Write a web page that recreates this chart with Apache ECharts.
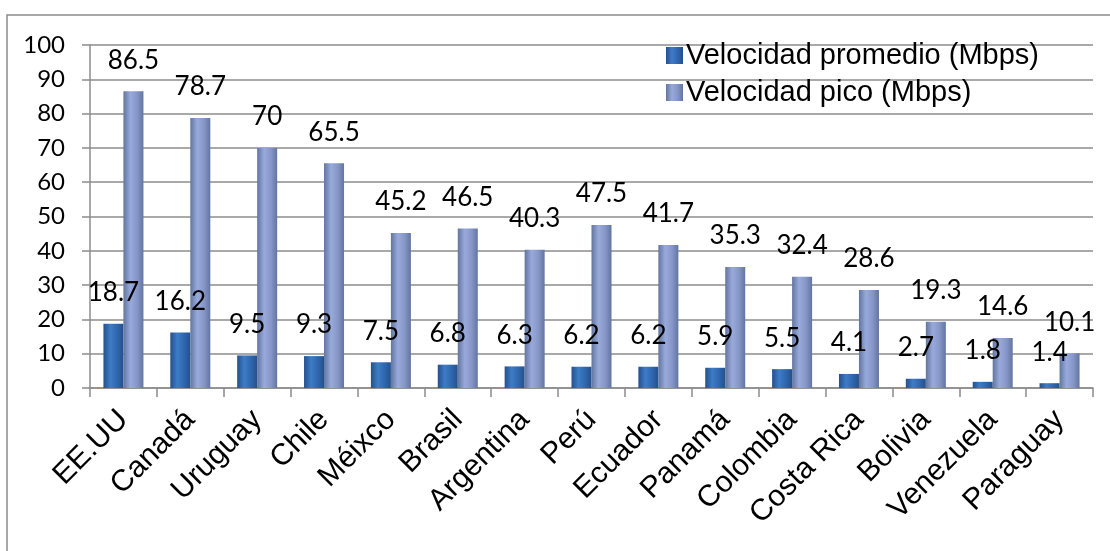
<!DOCTYPE html>
<html>
<head>
<meta charset="utf-8">
<script src="https://cdn.jsdelivr.net/npm/echarts@6/dist/echarts.min.js"></script>
<style>
  html, body { margin: 0; padding: 0; background: #ffffff; }
  #chart { width: 1110px; height: 551px; }
</style>
</head>
<body>
<div id="chart"></div>
<script>
// Internet speed by country (Mbps)
const countries = ['EE.UU', 'Canadá', 'Uruguay', 'Chile', 'Méixco', 'Brasil', 'Argentina', 'Perú',
  'Ecuador', 'Panamá', 'Colombia', 'Costa Rica', 'Bolivia', 'Venezuela', 'Paraguay'];
const avgSpeed = [18.7, 16.2, 9.5, 9.3, 7.5, 6.8, 6.3, 6.2, 6.2, 5.9, 5.5, 4.1, 2.7, 1.8, 1.4];
const peakSpeed = [86.5, 78.7, 70, 65.5, 45.2, 46.5, 40.3, 47.5, 41.7, 35.3, 32.4, 28.6, 19.3, 14.6, 10.1];
const seriesNames = ['Velocidad promedio (Mbps)', 'Velocidad pico (Mbps)'];

const numFont = 'Lato, "Open Sans", sans-serif';
const textFont = '"Liberation Sans", Arial, sans-serif';

// horizontal shading so the columns read as rounded
function cylinder(edge, mid, light) {
  return new echarts.graphic.LinearGradient(0, 0, 1, 0, [
    { offset: 0, color: edge },
    { offset: 0.35, color: light },
    { offset: 0.7, color: mid },
    { offset: 1, color: edge }
  ]);
}

const chart = echarts.init(document.getElementById('chart'));
chart.setOption({
  animation: false,
  backgroundColor: '#ffffff',
  graphic: [{
    type: 'rect',
    shape: { x: 7, y: 15, width: 1120, height: 560 },
    style: { fill: 'none', stroke: '#8c8c8c', lineWidth: 1.5 },
    silent: true
  }],
  grid: { left: 90, right: 17, top: 45, bottom: 163 },
  legend: {
    orient: 'vertical',
    left: 661,
    top: 36,
    itemWidth: 17,
    itemHeight: 17,
    itemGap: 8,
    icon: 'rect',
    textStyle: { fontFamily: textFont, fontSize: 29, color: '#000', padding: [0, 0, 0, -2] },
    data: seriesNames
  },
  xAxis: {
    type: 'category',
    data: countries,
    axisLine: { lineStyle: { color: '#8c8c8c', width: 1.5 } },
    axisTick: { show: true, length: 9, lineStyle: { color: '#8c8c8c', width: 1.5 } },
    axisLabel: {
      rotate: 45,
      margin: 27,
      interval: 0,
      fontFamily: textFont,
      fontSize: 30,
      color: '#000'
    }
  },
  yAxis: {
    type: 'value',
    min: 0,
    max: 100,
    interval: 10,
    axisLine: { show: true, lineStyle: { color: '#8c8c8c', width: 1.5 } },
    axisTick: { show: true, length: 8, lineStyle: { color: '#8c8c8c', width: 1.5 } },
    splitLine: { lineStyle: { color: '#8c8c8c', width: 1.5 } },
    axisLabel: { margin: 25, fontFamily: numFont, fontSize: 24, color: '#000' }
  },
  series: [
    {
      name: seriesNames[0],
      type: 'bar',
      data: avgSpeed,
      barWidth: 20,
      barGap: '0%',
      itemStyle: { color: cylinder('#24508c', '#2f66ad', '#3d7cc6') },
      label: {
        show: true, position: 'top', distance: 18,
        fontFamily: numFont, fontSize: 26, color: '#000'
      }
    },
    {
      name: seriesNames[1],
      type: 'bar',
      data: peakSpeed,
      barWidth: 20,
      itemStyle: { color: cylinder('#62759f', '#8595c6', '#98aadb') },
      label: {
        show: true, position: 'top', distance: 18,
        fontFamily: numFont, fontSize: 26, color: '#000'
      }
    }
  ]
});
</script>
</body>
</html>
